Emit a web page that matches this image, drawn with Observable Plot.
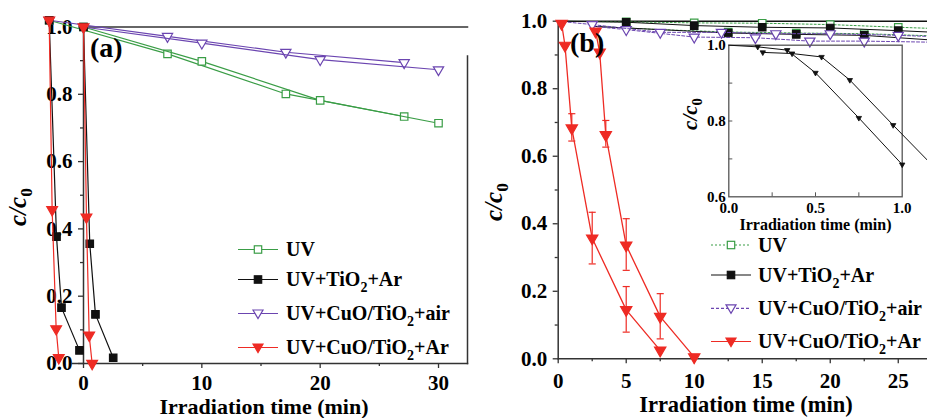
<!DOCTYPE html>
<html><head><meta charset="utf-8">
<script src="https://cdn.jsdelivr.net/npm/d3@7"></script>
<script src="https://cdn.jsdelivr.net/npm/@observablehq/plot@0.6"></script>
<style>
body{margin:0;background:#fff;}
#wrap{position:relative;width:927px;height:418px;overflow:hidden;background:#fff;}
#wrap svg{position:absolute;overflow:visible;}
</style></head>
<body><div id="wrap"></div>
<script>
// ---------- Panel (a) data ----------
const tUvA  = [0, 10, 20, 30];
const uvA   = [1.0, 0.898, 0.782, 0.714];
const tUvA2 = [-2.9, 7.1, 17.1, 27.1];
const uvA2  = [1.02, 0.920, 0.801, 0.734];
const airA  = [1.0, 0.952, 0.903, 0.873];
const airA2 = [1.02, 0.972, 0.925, 0.894];
const tTiA  = [0, 0.53, 1.01, 2.51];
const tiA   = [1.0, 0.356, 0.146, 0.017];
const tTiA2 = [-2.9, -2.28, -1.86, -0.34];
const tiA2  = [1.02, 0.377, 0.166, 0.039];
const tCuA  = [0, 0.25, 0.48, 0.73];
const cuA   = [1.0, 0.435, 0.084, 0.0];
const tCuA2 = [-2.9, -2.65, -2.31, -2.09];
const cuA2  = [1.02, 0.457, 0.103, 0.017];

// ---------- Panel (b) data ----------
const tB    = [0, 5, 10, 15, 20, 25, 27.2];
const mkB   = [false, true, true, true, true, true, false];
const uvB   = [1.0, 0.998, 0.995, 0.994, 0.990, 0.982, 0.979];
const tiB   = [1.0, 0.997, 0.987, 0.982, 0.980, 0.972, 0.968];
const tB2   = [2.5, 7.5, 12.5, 17.5, 22.5, 27.2];
const mkB2  = [false, false, true, true, true, false];
const uvB2  = [0.985, 0.975, 0.968, 0.965, 0.963, 0.957];
const tiB2  = [0.985, 0.975, 0.965, 0.961, 0.958, 0.945];
const tAirB  = [0, 2.5, 7.5, 12, 16, 20, 25, 27.2];
const mkAirB = [false, true, true, true, true, true, true, false];
const airB   = [1.0, 0.990, 0.967, 0.967, 0.963, 0.963, 0.958, 0.955];
const tAirB2  = [2.5, 5, 10, 14.5, 18.5, 22.5, 27.2];
const mkAirB2 = [false, true, true, true, true, true, false];
const airB2   = [0.985, 0.975, 0.953, 0.951, 0.941, 0.941, 0.938];
const tR1 = [0.25, 0.5, 1.0, 2.5, 5.0, 7.5];
const r1  = [0.993, 0.928, 0.683, 0.357, 0.145, 0.025];
const tR2 = [2.75, 3.05, 3.5, 5.0, 7.5, 10.0];
const r2  = [0.970, 0.908, 0.663, 0.336, 0.125, 0.005];
const eX1 = [1.0, 2.5, 5.0];
const eLo1 = [0.645, 0.281, 0.079];
const eHi1 = [0.726, 0.434, 0.214];
const eX2 = [3.5, 5.0, 7.5];
const eLo2 = [0.627, 0.262, 0.059];
const eHi2 = [0.706, 0.415, 0.193];

// ---------- Inset data ----------
const tI1 = [0, 0.167, 0.337, 0.5, 0.75, 1.0];
const mkI1 = [false, true, true, true, true, true];
const i1  = [1.0, 0.9956, 0.987, 0.927, 0.808, 0.685];
const tI2 = [0.196, 0.365, 0.535, 0.698, 0.948, 1.2];
const i2  = [0.981, 0.978, 0.969, 0.908, 0.789, 0.671];

// ---------- ticks & labels ----------
const yMajor = [0, 0.2, 0.4, 0.6, 0.8, 1.0];
const yMinor = [0.1, 0.3, 0.5, 0.7, 0.9];
const xMajorA = [0, 10, 20, 30];
const xMinorA = [5, 15, 25];
const xMajorB = [0, 5, 10, 15, 20, 25];
const xMinorB = [2.5, 7.5, 12.5, 17.5, 22.5];
const yInset = [0.6, 0.8, 1.0];
const yInsetMinor = [0.7, 0.8, 0.9];
const xInset = [0, 0.5, 1.0];
const xInsetMinor = [0.25, 0.5, 0.75];
const legendLabels = ["UV", "UV+TiO2+Ar", "UV+CuO/TiO2+air", "UV+CuO/TiO2+Ar"];
const xTitle = "Irradiation time (min)";

const SERIF = '"Liberation Serif","Times New Roman",serif';
const GREEN = "#3a9d46", PURPLE = "#6b45b0", RED = "#ee2b24", BLACK = "#111", AX = "#333";
const fmt = d3.format(".1f");
const rows = (xs, ys, mk) => xs.map((x, i) => ({x, y: ys[i], m: mk ? mk[i] : true}));
const capSym = {draw(ctx, size) { const w = Math.sqrt(size); ctx.moveTo(-w / 2, 0); ctx.lineTo(w / 2, 0); }};

function series(data, {color, symbol, down = false, open = false, r = 4, dash, width = 1.2, sw = 1.2}) {
  return [
    Plot.line(data, {x: "x", y: "y", stroke: color, strokeWidth: width, strokeDasharray: dash}),
    Plot.dot(data.filter(d => d.m), {x: "x", y: "y", symbol, rotate: down ? 180 : 0, r,
      fill: open ? "white" : color, stroke: color, strokeWidth: sw})
  ];
}
const baseStyle = (size, left) => ({fontFamily: SERIF, fontWeight: "bold", fontSize: size, color: "#000",
  background: "transparent", overflow: "visible", position: "absolute", left, top: "0px"});

const wrap = document.getElementById("wrap");

// ---------- Panel (a) ----------
const plotA = Plot.plot({
  width: 480, height: 418, marginLeft: 83, marginRight: 13, marginTop: 26.5, marginBottom: 55,
  x: {domain: [0, 32.45]}, y: {domain: [0, 1]},
  style: baseStyle("21px", "0px"),
  marks: [
    Plot.frame({anchor: "top", stroke: AX, strokeWidth: 1.5}),
    Plot.frame({anchor: "right", stroke: AX, strokeWidth: 1.5, insetTop: 29}),
    Plot.frame({anchor: "left", stroke: AX, strokeWidth: 1.5}),
    Plot.frame({anchor: "bottom", stroke: AX, strokeWidth: 1.5, insetLeft: -11}),
    Plot.axisY(yMajor, {tickSize: 5, tickPadding: 6, tickFormat: fmt, label: null, stroke: AX, strokeWidth: 1.3}),
    Plot.axisY(yMinor, {tickSize: 3, fill: "none", label: null, stroke: AX, strokeWidth: 1.3}),
    Plot.axisX(xMajorA, {tickSize: 5, tickPadding: 7, tickFormat: d => d, label: null, stroke: AX, strokeWidth: 1.3}),
    Plot.axisX(xMinorA, {tickSize: 3, fill: "none", label: null, stroke: AX, strokeWidth: 1.3}),
    ...series(rows(tUvA2, uvA2), {color: GREEN, symbol: "square", open: true, r: 4.2}),
    ...series(rows(tUvA, uvA), {color: GREEN, symbol: "square", open: true, r: 4.2}),
    ...series(rows(tUvA2, airA2), {color: PURPLE, symbol: "triangle", down: true, open: true, r: 3.8}),
    ...series(rows(tUvA, airA), {color: PURPLE, symbol: "triangle", down: true, open: true, r: 3.8}),
    ...series(rows(tTiA2, tiA2), {color: BLACK, symbol: "square", r: 4.2}),
    ...series(rows(tTiA, tiA), {color: BLACK, symbol: "square", r: 4.2}),
    ...series(rows(tCuA2, cuA2), {color: RED, symbol: "triangle", down: true, r: 4}),
    ...series(rows(tCuA, cuA), {color: RED, symbol: "triangle", down: true, r: 4})
  ]
});
wrap.appendChild(plotA);

// ---------- Panel (b) ----------
const errRows = (xs, lo, hi) => xs.map((x, i) => ({x, lo: lo[i], hi: hi[i]}));
const err1 = errRows(eX1, eLo1, eHi1), err2 = errRows(eX2, eLo2, eHi2);
const errMarks = e => [
  Plot.ruleX(e, {x: "x", y1: "lo", y2: "hi", stroke: RED, strokeWidth: 1.2}),
  Plot.dot(e, {x: "x", y: "lo", symbol: capSym, r: 4, stroke: RED, strokeWidth: 1.2, fill: "none"}),
  Plot.dot(e, {x: "x", y: "hi", symbol: capSym, r: 4, stroke: RED, strokeWidth: 1.2, fill: "none"})
];
const plotB = Plot.plot({
  width: 447, height: 418, marginLeft: 77.7, marginRight: 0, marginTop: 20.7, marginBottom: 59.7,
  x: {domain: [0, 27.15]}, y: {domain: [0, 1]},
  style: baseStyle("21px", "480px"),
  marks: [
    Plot.frame({anchor: "top", stroke: BLACK, strokeWidth: 1.5}),
    Plot.frame({anchor: "left", stroke: AX, strokeWidth: 1.5}),
    Plot.frame({anchor: "bottom", stroke: AX, strokeWidth: 1.5}),
    Plot.axisY(yMajor, {tickSize: 5, tickPadding: 6, tickFormat: fmt, label: null, stroke: AX, strokeWidth: 1.3}),
    Plot.axisY(yMinor, {tickSize: 3, fill: "none", label: null, stroke: AX, strokeWidth: 1.3}),
    Plot.axisX(xMajorB, {tickSize: 5, tickPadding: 9, tickFormat: d => d, label: null, stroke: AX, strokeWidth: 1.3}),
    Plot.axisX(xMinorB, {tickSize: 3, fill: "none", label: null, stroke: AX, strokeWidth: 1.3}),
    ...series(rows(tB2, uvB2, mkB2), {color: GREEN, symbol: "square", open: true, r: 4.2, dash: "2,2", width: 1}),
    ...series(rows(tB, uvB, mkB), {color: GREEN, symbol: "square", open: true, r: 4.2, dash: "2,2", width: 1}),
    ...series(rows(tB2, tiB2, mkB2), {color: BLACK, symbol: "square", r: 4.2, width: 1}),
    ...series(rows(tB, tiB, mkB), {color: BLACK, symbol: "square", r: 4.2, width: 1}),
    ...series(rows(tAirB2, airB2, mkAirB2), {color: PURPLE, symbol: "triangle", down: true, open: true, r: 3.8, dash: "3,2", width: 1}),
    ...series(rows(tAirB, airB, mkAirB), {color: PURPLE, symbol: "triangle", down: true, open: true, r: 3.8, dash: "3,2", width: 1}),
    ...errMarks(err1), ...errMarks(err2),
    ...series(rows(tR1, r1), {color: RED, symbol: "triangle", down: true, r: 4.2, width: 1.3}),
    ...series(rows(tR2, r2), {color: RED, symbol: "triangle", down: true, r: 4.2, width: 1.3})
  ]
});
wrap.appendChild(plotB);

// ---------- Inset ----------
const plotI = Plot.plot({
  width: 287, height: 240, marginLeft: 88.3, marginRight: 25.3, marginTop: 44.7, marginBottom: 43.7,
  x: {domain: [0, 1]}, y: {domain: [0.6, 1.0]},
  style: baseStyle("15px", "640px"),
  marks: [
    Plot.frame({stroke: "#555", strokeWidth: 1.3}),
    Plot.axisY(yInset, {tickSize: 0, tickPadding: 3, tickFormat: fmt, label: null}),
    Plot.axisY(yInsetMinor, {tickSize: -4, fill: "none", label: null, stroke: "#555"}),
    Plot.axisX(xInset, {tickSize: 0, tickPadding: 6, tickFormat: fmt, label: null}),
    Plot.axisX(xInsetMinor, {tickSize: -4, fill: "none", label: null, stroke: "#555"}),
    ...series(rows(tI1, i1, mkI1), {color: BLACK, symbol: "triangle", down: true, r: 2, width: 1, sw: 0.8}),
    ...series(rows(tI2, i2), {color: BLACK, symbol: "triangle", down: true, r: 2, width: 1, sw: 0.8})
  ]
});
wrap.appendChild(plotI);

// ---------- Annotations: titles, panel letters, legends ----------
function richLabel(s, subSize, drop) {
  return s.replace(/TiO2/, `TiO<tspan dy="${drop}" font-size="${subSize}">2</tspan><tspan dy="${-drop}">`) + (s.includes("TiO2") ? "</tspan>" : "");
}
function legend(x0, x1, tx, ys, styles) {
  let out = "";
  const xm = (x0 + x1) / 2;
  legendLabels.forEach((lab, i) => {
    const y = ys[i], st = styles[i];
    out += `<line x1="${x0}" x2="${x1}" y1="${y}" y2="${y}" stroke="${st.color}" stroke-width="1.2" ${st.dash ? `stroke-dasharray="${st.dash}"` : ""}/>`;
    const fill = st.open ? "white" : st.color;
    if (st.sym === "square") {
      out += `<rect x="${xm - 3.7}" y="${y - 3.7}" width="7.4" height="7.4" fill="${fill}" stroke="${st.color}" stroke-width="1.2"/>`;
    } else {
      out += `<polygon points="${xm - 5},${y - 3.5} ${xm + 5},${y - 3.5} ${xm},${y + 5}" fill="${fill}" stroke="${st.color}" stroke-width="1.2"/>`;
    }
    out += `<text x="${tx}" y="${y + 6.6}" font-size="20">${richLabel(lab, 14, 6)}</text>`;
  });
  return out;
}
const cc = (x, y, size) => `<text transform="translate(${x},${y}) rotate(-90)" text-anchor="middle" font-size="${size}"><tspan font-style="italic">c/c</tspan><tspan dy="${size * 0.25}" font-size="${size * 0.7}">0</tspan></text>`;

const ov = document.createElementNS("http://www.w3.org/2000/svg", "svg");
ov.setAttribute("width", 927); ov.setAttribute("height", 418);
ov.style.left = "0px"; ov.style.top = "0px";
ov.setAttribute("font-family", SERIF); ov.setAttribute("font-weight", "bold");
ov.innerHTML =
  `<text x="264" y="413.8" font-size="22" text-anchor="middle">${xTitle}</text>` +
  `<text x="746" y="412" font-size="22.5" text-anchor="middle">${xTitle}</text>` +
  `<text x="815.5" y="230" font-size="16" text-anchor="middle">${xTitle}</text>` +
  cc(25.5, 207, 25) + cc(502, 202, 25) + cc(697, 114, 21) +
  `<text x="90" y="57" font-size="28">(a)</text>` +
  `<text x="570" y="52" font-size="28">(b)</text>` +
  legend(238, 278, 286, [249.5, 279.5, 313.5, 347.5], [
    {color: GREEN, sym: "square", open: true},
    {color: BLACK, sym: "square"},
    {color: PURPLE, sym: "tri", open: true},
    {color: RED, sym: "tri"}]) +
  legend(711, 751, 758, [245, 275, 308.3, 341.5], [
    {color: GREEN, sym: "square", open: true, dash: "2,2"},
    {color: BLACK, sym: "square"},
    {color: PURPLE, sym: "tri", open: true, dash: "3,2"},
    {color: RED, sym: "tri"}]);
wrap.appendChild(ov);
</script>
</body></html>
